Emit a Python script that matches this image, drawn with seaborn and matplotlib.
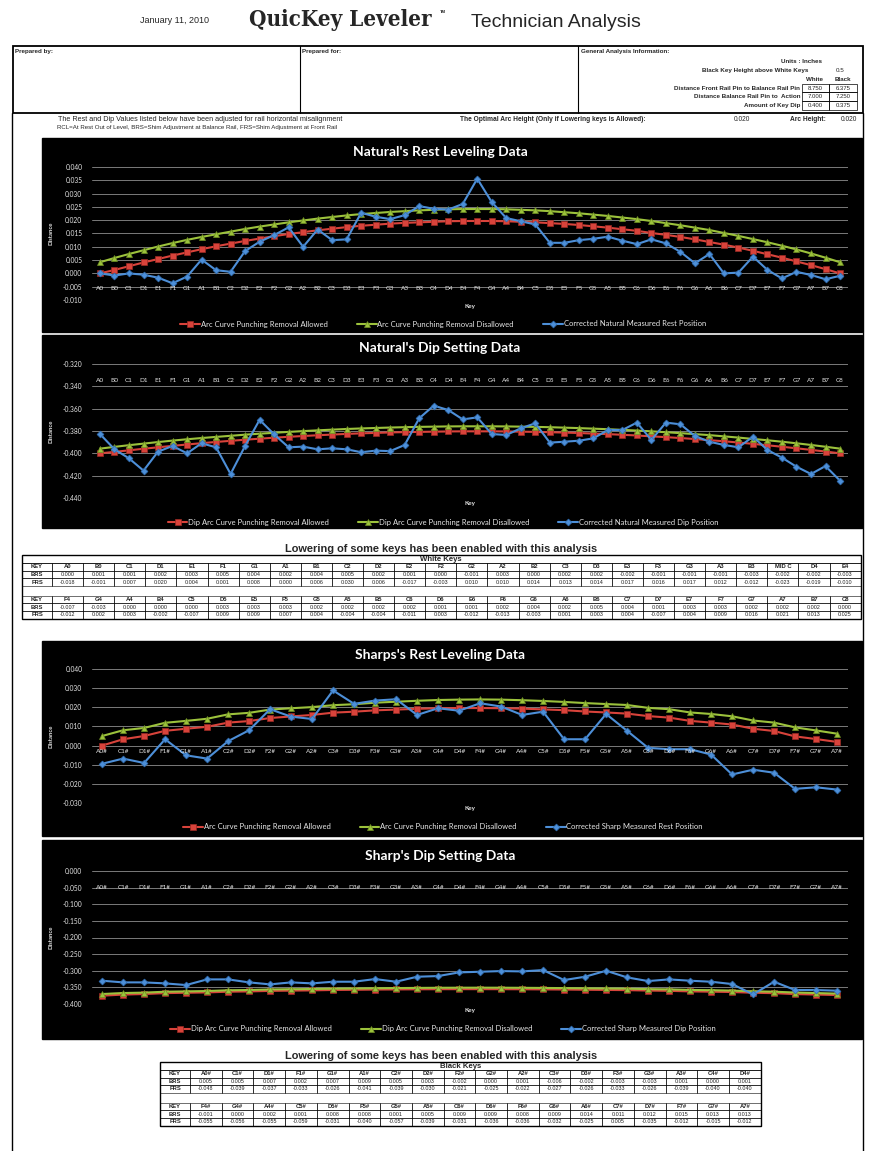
import matplotlib
matplotlib.use("Agg")
import matplotlib.pyplot as plt
from matplotlib.patches import Rectangle
import numpy as np
import pandas as pd
import seaborn as sns

# ---------------- data ----------------
natural_keys = ("A0 B0 C1 D1 E1 F1 G1 A1 B1 C2 D2 E2 F2 G2 A2 B2 C3 D3 E3 F3 G3 A3 B3 C4 D4 "
                "E4 F4 G4 A4 B4 C5 D5 E5 F5 G5 A5 B5 C6 D6 E6 F6 G6 A6 B6 C7 D7 E7 F7 G7 A7 B7 C8").split()
sharp_keys = ("A0# C1# D1# F1# G1# A1# C2# D2# F2# G2# A2# C3# D3# F3# G3# A3# C4# D4# "
              "F4# G4# A4# C5# D5# F5# G5# A5# C6# D6# F6# G6# A6# C7# D7# F7# G7# A7#").split()

nat_rest_allowed = [0.0000, 0.0013, 0.0027, 0.0041, 0.0054, 0.0067, 0.0079, 0.0091, 0.0102, 0.0112,
                    0.0122, 0.0131, 0.0140, 0.0148, 0.0155, 0.0162, 0.0168, 0.0174, 0.0179, 0.0183,
                    0.0187, 0.0190, 0.0192, 0.0194, 0.0196, 0.0197, 0.0197, 0.0197, 0.0196, 0.0194,
                    0.0192, 0.0189, 0.0186, 0.0182, 0.0177, 0.0172, 0.0166, 0.0160, 0.0152, 0.0145,
                    0.0137, 0.0128, 0.0118, 0.0108, 0.0097, 0.0085, 0.0072, 0.0059, 0.0045, 0.0031,
                    0.0016, 0.0000]
nat_rest_disallowed = [0.0042, 0.0058, 0.0073, 0.0087, 0.0101, 0.0114, 0.0126, 0.0137, 0.0147, 0.0157,
                       0.0167, 0.0176, 0.0184, 0.0192, 0.0199, 0.0206, 0.0212, 0.0218, 0.0223, 0.0227,
                       0.0231, 0.0234, 0.0237, 0.0239, 0.0241, 0.0242, 0.0242, 0.0242, 0.0241, 0.0239,
                       0.0237, 0.0234, 0.0230, 0.0226, 0.0221, 0.0216, 0.0210, 0.0204, 0.0197, 0.0189,
                       0.0181, 0.0172, 0.0163, 0.0152, 0.0141, 0.0129, 0.0117, 0.0104, 0.0090, 0.0075,
                       0.0059, 0.0042]
nat_rest_measured = [0.0000, -0.0008, 0.0000, -0.0005, -0.0016, -0.0037, -0.0012, 0.0052, 0.0012, 0.0006,
                     0.0084, 0.0119, 0.0144, 0.0173, 0.0100, 0.0165, 0.0125, 0.0128, 0.0228, 0.0213,
                     0.0204, 0.0219, 0.0253, 0.0243, 0.0240, 0.0261, 0.0356, 0.0268, 0.0208, 0.0196,
                     0.0184, 0.0115, 0.0115, 0.0125, 0.0130, 0.0138, 0.0123, 0.0110, 0.0128, 0.0113,
                     0.0081, 0.0038, 0.0073, 0.0000, 0.0003, 0.0063, 0.0013, -0.0019, 0.0006, -0.0006,
                     -0.0022, -0.0009]

nat_dip_allowed = [-0.4000, -0.3987, -0.3973, -0.3959, -0.3946, -0.3933, -0.3921, -0.3909, -0.3898, -0.3888,
                   -0.3878, -0.3869, -0.3860, -0.3852, -0.3845, -0.3838, -0.3832, -0.3826, -0.3821, -0.3817,
                   -0.3813, -0.3810, -0.3808, -0.3806, -0.3804, -0.3803, -0.3803, -0.3803, -0.3804, -0.3806,
                   -0.3808, -0.3811, -0.3814, -0.3818, -0.3823, -0.3828, -0.3834, -0.3840, -0.3848, -0.3855,
                   -0.3863, -0.3872, -0.3882, -0.3892, -0.3903, -0.3915, -0.3928, -0.3941, -0.3955, -0.3969,
                   -0.3984, -0.4000]
nat_dip_disallowed = [-0.3958, -0.3942, -0.3927, -0.3913, -0.3899, -0.3886, -0.3874, -0.3863, -0.3853, -0.3843,
                      -0.3833, -0.3824, -0.3816, -0.3808, -0.3801, -0.3794, -0.3788, -0.3782, -0.3777, -0.3773,
                      -0.3769, -0.3766, -0.3763, -0.3761, -0.3759, -0.3758, -0.3758, -0.3758, -0.3759, -0.3761,
                      -0.3763, -0.3766, -0.3770, -0.3774, -0.3779, -0.3784, -0.3790, -0.3796, -0.3803, -0.3811,
                      -0.3819, -0.3828, -0.3837, -0.3848, -0.3859, -0.3871, -0.3883, -0.3896, -0.3910, -0.3925,
                      -0.3941, -0.3958]
nat_dip_measured = [-0.3827, -0.3964, -0.4045, -0.4155, -0.3985, -0.3934, -0.4000, -0.3910, -0.3946, -0.4185,
                    -0.3934, -0.3700, -0.3830, -0.3946, -0.3940, -0.3964, -0.3955, -0.3964, -0.3990, -0.3976,
                    -0.3980, -0.3925, -0.3686, -0.3573, -0.3612, -0.3696, -0.3678, -0.3827, -0.3836, -0.3776,
                    -0.3731, -0.3904, -0.3896, -0.3887, -0.3866, -0.3791, -0.3791, -0.3725, -0.3880, -0.3725,
                    -0.3740, -0.3845, -0.3896, -0.3925, -0.3946, -0.3851, -0.3970, -0.4039, -0.4120, -0.4185,
                    -0.4114, -0.4245]

sharp_rest_allowed = [0.0000, 0.0033, 0.0050, 0.0077, 0.0088, 0.0098, 0.0120, 0.0128, 0.0144, 0.0152,
                      0.0160, 0.0172, 0.0177, 0.0184, 0.0188, 0.0192, 0.0195, 0.0196, 0.0196, 0.0195,
                      0.0193, 0.0189, 0.0185, 0.0178, 0.0173, 0.0167, 0.0154, 0.0146, 0.0129, 0.0120,
                      0.0110, 0.0088, 0.0076, 0.0048, 0.0034, 0.0019]
sharp_rest_disallowed = [0.0050, 0.0080, 0.0092, 0.0119, 0.0129, 0.0140, 0.0163, 0.0171, 0.0188, 0.0195,
                         0.0201, 0.0211, 0.0216, 0.0224, 0.0229, 0.0234, 0.0238, 0.0240, 0.0241, 0.0240,
                         0.0237, 0.0233, 0.0228, 0.0222, 0.0217, 0.0212, 0.0197, 0.0190, 0.0173, 0.0165,
                         0.0153, 0.0131, 0.0120, 0.0095, 0.0079, 0.0062]
sharp_rest_measured = [-0.0095, -0.0068, -0.0091, 0.0033, -0.0051, -0.0068, 0.0023, 0.0080, 0.0190, 0.0151,
                       0.0139, 0.0288, 0.0218, 0.0235, 0.0242, 0.0160, 0.0195, 0.0182, 0.0221, 0.0204,
                       0.0160, 0.0177, 0.0033, 0.0033, 0.0165, 0.0077, -0.0012, -0.0019, -0.0019, -0.0047,
                       -0.0151, -0.0126, -0.0142, -0.0226, -0.0218, -0.0230]

sharp_dip_allowed = [-0.3750, -0.3717, -0.3700, -0.3673, -0.3662, -0.3652, -0.3630, -0.3622, -0.3606, -0.3598,
                     -0.3590, -0.3578, -0.3573, -0.3566, -0.3562, -0.3558, -0.3555, -0.3554, -0.3554, -0.3555,
                     -0.3557, -0.3561, -0.3565, -0.3572, -0.3577, -0.3583, -0.3596, -0.3604, -0.3621, -0.3630,
                     -0.3640, -0.3662, -0.3674, -0.3702, -0.3716, -0.3731]
sharp_dip_disallowed = [-0.3700, -0.3670, -0.3658, -0.3631, -0.3621, -0.3610, -0.3587, -0.3579, -0.3562, -0.3555,
                        -0.3549, -0.3539, -0.3534, -0.3526, -0.3521, -0.3516, -0.3512, -0.3510, -0.3509, -0.3510,
                        -0.3513, -0.3517, -0.3522, -0.3528, -0.3533, -0.3538, -0.3553, -0.3560, -0.3577, -0.3585,
                        -0.3597, -0.3619, -0.3630, -0.3655, -0.3671, -0.3688]
sharp_dip_measured = [-0.330, -0.335, -0.335, -0.338, -0.343, -0.326, -0.326, -0.335, -0.341, -0.335,
                      -0.338, -0.333, -0.333, -0.325, -0.333, -0.318, -0.316, -0.305, -0.303, -0.301,
                      -0.302, -0.298, -0.328, -0.318, -0.300, -0.320, -0.331, -0.326, -0.330, -0.333,
                      -0.340, -0.371, -0.333, -0.358, -0.358, -0.360]

# y axis tick values of the four charts
nat_rest_ticks = [-0.010, -0.005, 0.000, 0.005, 0.010, 0.015, 0.020, 0.025, 0.030, 0.035, 0.040]
nat_dip_ticks = [-0.440, -0.420, -0.400, -0.380, -0.360, -0.340, -0.320]
sharp_rest_ticks = [-0.030, -0.020, -0.010, 0.000, 0.010, 0.020, 0.030, 0.040]
sharp_dip_ticks = [-0.400, -0.350, -0.300, -0.250, -0.200, -0.150, -0.100, -0.050, 0.000]

# lowering tables
white_keys_row1 = ["A0", "B0", "C1", "D1", "E1", "F1", "G1", "A1", "B1", "C2", "D2", "E2", "F2",
                   "G2", "A2", "B2", "C3", "D3", "E3", "F3", "G3", "A3", "B3", "MID C", "D4", "E4"]
white_brs_row1 = ["0.000", "0.001", "0.001", "0.002", "0.003", "0.005", "0.004", "0.002", "0.004", "0.005",
                  "0.002", "0.001", "0.000", "-0.001", "0.003", "0.000", "0.002", "0.002", "-0.002", "-0.001",
                  "-0.001", "-0.001", "-0.003", "-0.002", "-0.002", "-0.003"]
white_frs_row1 = ["-0.018", "-0.001", "0.007", "0.020", "0.004", "0.001", "0.008", "0.000", "0.006", "0.030",
                  "0.006", "-0.017", "-0.003", "0.010", "0.010", "0.014", "0.013", "0.014", "0.017", "0.016",
                  "0.017", "0.012", "-0.012", "-0.023", "-0.019", "-0.010"]
white_keys_row2 = ["F4", "G4", "A4", "B4", "C5", "D5", "E5", "F5", "G5", "A5", "B5", "C6", "D6",
                   "E6", "F6", "G6", "A6", "B6", "C7", "D7", "E7", "F7", "G7", "A7", "B7", "C8"]
white_brs_row2 = ["-0.007", "-0.003", "0.000", "0.000", "0.000", "0.003", "0.003", "0.003", "0.002", "0.002",
                  "0.002", "0.002", "0.001", "0.001", "0.002", "0.004", "0.002", "0.005", "0.004", "0.001",
                  "0.003", "0.003", "0.002", "0.002", "0.002", "0.000"]
white_frs_row2 = ["-0.012", "0.002", "0.003", "-0.002", "-0.007", "0.009", "0.009", "0.007", "0.004", "-0.004",
                  "-0.004", "-0.011", "0.003", "-0.012", "-0.013", "-0.003", "0.001", "0.003", "0.004", "-0.007",
                  "0.004", "0.009", "0.016", "0.021", "0.013", "0.025"]

black_keys_row1 = sharp_keys[:18]
black_brs_row1 = ["0.005", "0.005", "0.007", "0.002", "0.007", "0.009", "0.005", "0.003", "-0.002",
                  "0.000", "0.001", "-0.006", "-0.002", "-0.003", "-0.003", "0.001", "0.000", "0.001"]
black_frs_row1 = ["-0.048", "-0.039", "-0.037", "-0.033", "-0.026", "-0.041", "-0.039", "-0.030", "-0.021",
                  "-0.025", "-0.022", "-0.027", "-0.026", "-0.033", "-0.026", "-0.039", "-0.040", "-0.040"]
black_keys_row2 = sharp_keys[18:]
black_brs_row2 = ["-0.001", "0.000", "0.002", "0.001", "0.008", "0.008", "0.001", "0.005", "0.009",
                  "0.009", "0.008", "0.009", "0.014", "0.011", "0.012", "0.015", "0.013", "0.013"]
black_frs_row2 = ["-0.055", "-0.056", "-0.055", "-0.059", "-0.031", "-0.040", "-0.057", "-0.039", "-0.031",
                  "-0.036", "-0.036", "-0.032", "-0.025", "0.005", "-0.035", "-0.012", "-0.015", "-0.012"]

info_labels = ["Distance Front Rail Pin to Balance Rail Pin", "Distance Balance Rail Pin to  Action", "Amount of Key Dip"]
info_white = ["8.750", "7.000", "0.400"]
info_black = ["6.375", "7.250", "0.375"]

# ---------------- style ----------------
sns.set_theme(style="white")
plt.rcParams['font.family'] = ['Liberation Sans', 'DejaVu Sans']
plt.rcParams['axes.unicode_minus'] = False

RED = "#d8433b"
GREEN = "#9cc23c"
BLUE = "#4d8fd8"
GRID = "#7a7a7a"
TXT = "#e6e6e6"
CHART_FONT = ['Lato', 'DejaVu Sans']

W, H = 877, 1151
fig = plt.figure(figsize=(W / 100, H / 100), dpi=100)
page = fig.add_axes([0, 0, 1, 1])
page.set_xlim(0, W)
page.set_ylim(H, 0)
page.axis('off')


def rect(x0, y0, x1, y1):
    return [x0 / W, 1 - y1 / H, (x1 - x0) / W, (y1 - y0) / H]


def T(x, y, s, **kw):
    kw.setdefault('va', 'center')
    page.text(x, y, s, **kw)


# ---------------- header ----------------
T(174, 20, "January 11, 2010", fontsize=6.5, ha='center')
T(340, 20, "QuicKey Leveler", fontsize=16, ha='center', fontweight='heavy',
  family=['DejaVu Serif'], fontstretch='condensed')
T(440, 12, "TM", fontsize=3, fontweight='bold')
T(556, 22, "Technician Analysis", fontsize=14, ha='center')

page.add_patch(Rectangle((13, 46), 850, 67, fill=False, lw=1.3, ec='black'))
page.plot([300, 300], [46, 113], color='black', lw=0.8)
page.plot([578, 578], [46, 113], color='black', lw=0.8)
T(15, 51, "Prepared by:", fontsize=4.5, fontweight='bold')
T(302, 51, "Prepared for:", fontsize=4.5, fontweight='bold')
T(581, 51, "General Analysis Information:", fontsize=4.5, fontweight='bold')
T(822, 61, "Units : Inches", fontsize=4.5, fontweight='bold', ha='right')
T(808, 70, "Black Key Height above White Keys", fontsize=4.5, fontweight='bold', ha='right')
T(840, 70, "0.5", fontsize=4.5, ha='center')
T(815, 79, "White", fontsize=4.5, fontweight='bold', ha='center')
T(843, 79, "Black", fontsize=4.5, fontweight='bold', ha='center')
for i, lab in enumerate(info_labels):
    yc = 88 + i * 8.7
    T(800, yc, lab, fontsize=4.5, fontweight='bold', ha='right')
    T(815.5, yc, info_white[i], fontsize=4.3, ha='center')
    T(843, yc, info_black[i], fontsize=4.3, ha='center')
    page.add_patch(Rectangle((802, yc - 4.3), 27, 8.7, fill=False, lw=0.5, ec='black'))
    page.add_patch(Rectangle((829, yc - 4.3), 28, 8.7, fill=False, lw=0.5, ec='black'))

T(58, 119, "The Rest and Dip Values listed below have been adjusted for rail horizontal misalignment", fontsize=5.2)
T(57, 127, "RCL=At Rest Out of Level, BRS=Shim Adjustment at Balance Rail, FRS=Shim Adjustment at Front Rail", fontsize=4.4)
T(460, 119, "The Optimal Arc Height (Only if Lowering keys is Allowed):", fontsize=4.8, fontweight='bold')
T(742, 119, "0.020", fontsize=4.8, ha='center')
T(790, 119, "Arc Height:", fontsize=4.8, fontweight='bold')
T(849, 119, "0.020", fontsize=4.8, ha='center')

# page border
page.plot([12, 12], [113, H], color='black', lw=1.0)
page.plot([863, 863], [113, H], color='black', lw=1.0)


# ---------------- charts ----------------
def chart(bg, area, keys, series, names, title, yticks, xlim, label_y, title_y, key_y, legend_y):
    page.add_patch(Rectangle((42, bg[0]), 820, bg[1] - bg[0], color='black', zorder=0))
    ax = fig.add_axes(rect(92, area[0], 848, area[1]))
    ax.set_facecolor('black')
    x = np.arange(len(keys))
    styles = [(RED, 's', 4.4, '#9c2a24'), (GREEN, '^', 4.8, '#6d8e22'), (BLUE, 'D', 3.5, '#2f6cb0')]
    for (col, mk, ms, mec), y, name in zip(styles, series, names):
        df = pd.DataFrame({'x': x, 'y': y})
        sns.lineplot(data=df, x='x', y='y', ax=ax, color=col, marker=mk, markersize=ms,
                     markeredgecolor=mec, markeredgewidth=0.5, linewidth=1.5, label=name)
    ax.set_xlim(*xlim)
    ax.set_ylim(yticks[0], yticks[-1])
    ax.set_yticks(yticks)
    ax.set_yticklabels([f"{v:.3f}" for v in yticks], fontsize=4.8, color=TXT, family=CHART_FONT)
    ax.tick_params(axis='y', length=0, pad=7)
    ax.set_xticks([])
    ax.set_xlabel("")
    ax.set_ylabel("")
    ax.grid(axis='y', color=GRID, lw=0.7)
    ax.set_axisbelow(True)
    for s in ax.spines.values():
        s.set_visible(False)
    for i, k in enumerate(keys):
        ax.text(i, label_y, k, fontsize=4.6, color=TXT, ha='center', va='center', family=CHART_FONT)
    ax.legend(loc='center', bbox_to_anchor=(443 / W, 1 - legend_y / H), bbox_transform=fig.transFigure,
              ncol=3, frameon=False, prop={'family': CHART_FONT, 'size': 5.5}, labelcolor=TXT,
              handlelength=2.6, handletextpad=0.1, columnspacing=3.8, borderaxespad=0)
    T(440, title_y, title, fontsize=10, fontweight='bold', color='white', ha='center', family=CHART_FONT)
    T(470, key_y, "Key", fontsize=4.5, fontweight='bold', color=TXT, ha='center', family=CHART_FONT)
    T(51, (area[0] + area[1]) / 2, "Distance", fontsize=4.3, fontweight='bold', color=TXT,
      ha='center', rotation=90, family=CHART_FONT)
    return ax


rest_names = ["Arc Curve Punching Removal Allowed", "Arc Curve Punching Removal Disallowed"]
dip_names = ["Dip Arc Curve Punching Removal Allowed", "Dip Arc Curve Punching Removal Disallowed"]
nat_x = (-0.55, 51.55)
sharp_x = (-0.48, 35.52)

chart((138, 332), (167, 300), natural_keys,
      [nat_rest_allowed, nat_rest_disallowed, nat_rest_measured],
      rest_names + ["Corrected Natural Measured Rest Position"],
      "Natural's Rest Leveling Data", nat_rest_ticks, nat_x,
      -0.0056, 152, 306, 324)

chart((335, 528), (364, 498), natural_keys,
      [nat_dip_allowed, nat_dip_disallowed, nat_dip_measured],
      dip_names + ["Corrected Natural Measured Dip Position"],
      "Natural's Dip Setting Data", nat_dip_ticks, nat_x,
      -0.3345, 348, 503, 522)

chart((641, 836), (669, 803), sharp_keys,
      [sharp_rest_allowed, sharp_rest_disallowed, sharp_rest_measured],
      rest_names + ["Corrected Sharp Measured Rest Position"],
      "Sharps's Rest Leveling Data", sharp_rest_ticks, sharp_x,
      -0.0032, 655, 808, 827)

chart((840, 1039), (871, 1004), sharp_keys,
      [sharp_dip_allowed, sharp_dip_disallowed, sharp_dip_measured],
      dip_names + ["Corrected Sharp Measured Dip Position"],
      "Sharp's Dip Setting Data", sharp_dip_ticks, sharp_x,
      -0.050, 856, 1010, 1029)


# ---------------- tables ----------------
def table(x0, key_w, col_w, top, header, blocks, row_h=7.6, head_h=8, gap=10):
    n = len(blocks[0][0])
    x1 = x0 + key_w + n * col_w
    T((x0 + x1) / 2, top + head_h / 2, header, fontsize=5.6, fontweight='bold', ha='center')
    y = top + head_h
    for bi, (keys, brs, frs) in enumerate(blocks):
        if bi > 0:
            y += gap
        for ri, (name, vals) in enumerate([("KEY", keys), ("BRS", brs), ("FRS", frs)]):
            bold = name == "KEY"
            page.add_patch(Rectangle((x0, y), key_w, row_h, fill=False, lw=0.4, ec='black'))
            T(x0 + key_w / 2, y + row_h / 2, name, fontsize=4.2, fontweight='bold', ha='center')
            for j, v in enumerate(vals):
                cx = x0 + key_w + j * col_w
                page.add_patch(Rectangle((cx, y), col_w, row_h, fill=False, lw=0.4, ec='black'))
                T(cx + col_w / 2, y + row_h / 2, v, fontsize=4.2 if bold else 3.9,
                  fontweight='bold' if bold else 'normal', ha='center', color='#222222')
            y += row_h
    page.add_patch(Rectangle((x0, top), x1 - x0, y - top, fill=False, lw=1.0, ec='black'))
    page.plot([x0, x1], [top + head_h, top + head_h], color='black', lw=0.5)


T(441, 549, "Lowering of some keys has been enabled with this analysis", fontsize=7.9,
  fontweight='bold', ha='center')
table(22, 30, 31.1, 555, "White Keys",
      [(white_keys_row1, white_brs_row1, white_frs_row1),
       (white_keys_row2, white_brs_row2, white_frs_row2)])

T(441, 1056, "Lowering of some keys has been enabled with this analysis", fontsize=7.9,
  fontweight='bold', ha='center')
table(160, 30, 31.7, 1062, "Black Keys",
      [(black_keys_row1, black_brs_row1, black_frs_row1),
       (black_keys_row2, black_brs_row2, black_frs_row2)])

fig.savefig("out.png", dpi=100)
